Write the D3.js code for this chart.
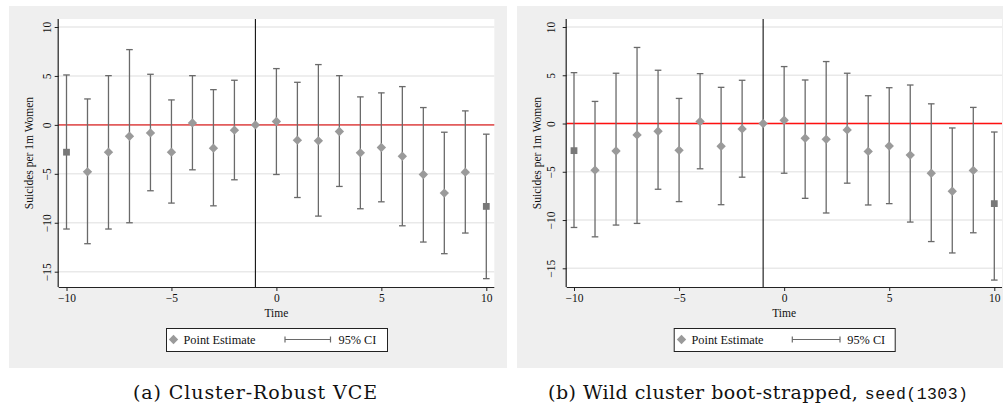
<!DOCTYPE html>
<html>
<head>
<meta charset="utf-8">
<script src="https://cdn.jsdelivr.net/npm/d3@7"></script>
<style>
  html, body { margin: 0; padding: 0; background: #fff; }
  svg { display: block; }
  .serif { font-family: "Liberation Serif", "Times New Roman", "DejaVu Serif", serif; }
  .cap { font-family: "DejaVu Serif", "Liberation Serif", serif; }
  .mono { font-family: "Liberation Mono", "DejaVu Sans Mono", monospace; }
</style>
</head>
<body>
<svg id="chart" width="1003" height="407"></svg>
<script>
// Event-study estimates by relative time (t = -1 is the omitted reference period)
const time = [-10, -9, -8, -7, -6, -5, -4, -3, -2, -1, 0, 1, 2, 3, 4, 5, 6, 7, 8, 9, 10];

// (a) Cluster-robust VCE
const estA = [-2.79, -4.80, -2.79, -1.16, -0.82, -2.79, 0.20, -2.38, -0.54, 0, 0.34, -1.56, -1.63, -0.68, -2.86, -2.31, -3.20, -5.07, -6.97, -4.83, -8.33];
const hiA  = [5.10, 2.65, 5.03, 7.69, 5.17, 2.55, 5.03, 3.60, 4.56, null, 5.75, 4.35, 6.16, 5.03, 2.86, 3.27, 3.91, 1.77, -0.75, 1.43, -0.95];
const loA  = [-10.64, -12.14, -10.64, -10.00, -6.73, -7.99, -4.59, -8.27, -5.61, null, -5.07, -7.42, -9.32, -6.29, -8.57, -7.86, -10.31, -11.97, -13.16, -11.05, -15.71];

// (b) Wild cluster bootstrap
const estB = [-2.81, -4.83, -2.85, -1.18, -0.80, -2.78, 0.21, -2.36, -0.56, 0, 0.34, -1.53, -1.64, -0.66, -2.89, -2.33, -3.27, -5.15, -7.02, -4.86, -8.30];
const hiB  = [5.27, 2.29, 5.21, 7.88, 5.52, 2.60, 5.17, 3.75, 4.48, null, 5.90, 4.51, 6.42, 5.21, 2.88, 3.71, 3.99, 2.04, -0.46, 1.67, -0.88];
const loB  = [-10.77, -11.74, -10.52, -10.35, -6.81, -8.09, -4.69, -8.41, -5.56, null, -5.15, -7.75, -9.27, -6.18, -8.44, -8.30, -10.21, -12.23, -13.41, -11.32, -16.22];

// Binned endpoints are drawn with a square marker
const binnedEnds = [-10, 10];

const xTicks = [-10, -5, 0, 5, 10];
const yTicks = [-15, -10, -5, 0, 5, 10];
const eventTime = -1;

const svg = d3.select("#chart");
const fmt = d => d < 0 ? "\u2212" + Math.abs(d) : String(d);

function drawPanel(cfg, est, hi, lo) {
  const g = svg.append("g");

  // outer graph region
  g.append("rect")
    .attr("x", cfg.bg[0]).attr("y", cfg.bg[1])
    .attr("width", cfg.bg[2] - cfg.bg[0]).attr("height", cfg.bg[3] - cfg.bg[1])
    .attr("fill", "#efefef");

  // plot region
  g.append("rect")
    .attr("x", cfg.plot[0]).attr("y", cfg.plot[1])
    .attr("width", cfg.plot[2] - cfg.plot[0]).attr("height", cfg.plot[3] - cfg.plot[1])
    .attr("fill", "#ffffff");

  const x = d3.scaleLinear().domain([-10, 10]).range(cfg.xr);
  const y = d3.scaleLinear().domain([-15, 10]).range(cfg.yr);

  // horizontal grid
  g.append("g").selectAll("line").data(yTicks).join("line")
    .attr("x1", cfg.plot[0]).attr("x2", cfg.plot[2])
    .attr("y1", d => y(d)).attr("y2", d => y(d))
    .attr("stroke", "#e9e9e9").attr("stroke-width", 1.4);

  // zero reference line
  g.append("line")
    .attr("x1", cfg.plot[0]).attr("x2", cfg.plot[2])
    .attr("y1", y(0)).attr("y2", y(0))
    .attr("stroke", cfg.zeroColor).attr("stroke-width", cfg.zeroWidth);

  // event-time marker
  g.append("line")
    .attr("x1", x(eventTime)).attr("x2", x(eventTime))
    .attr("y1", cfg.plot[1]).attr("y2", cfg.plot[3])
    .attr("stroke", "#111").attr("stroke-width", 1.1);

  // confidence intervals
  const rows = time.map((t, i) => ({ t, est: est[i], hi: hi[i], lo: lo[i] }));
  const ci = rows.filter(d => d.hi !== null);
  const ciG = g.append("g").attr("stroke", "#6a6a6a").attr("stroke-width", 1.3).attr("fill", "none");
  ciG.selectAll("line.v").data(ci).join("line").attr("class", "v")
    .attr("x1", d => x(d.t)).attr("x2", d => x(d.t))
    .attr("y1", d => y(d.hi)).attr("y2", d => y(d.lo));
  ciG.selectAll("line.capH").data(ci).join("line").attr("class", "capH")
    .attr("x1", d => x(d.t) - 3.3).attr("x2", d => x(d.t) + 3.3)
    .attr("y1", d => y(d.hi)).attr("y2", d => y(d.hi));
  ciG.selectAll("line.capL").data(ci).join("line").attr("class", "capL")
    .attr("x1", d => x(d.t) - 3.3).attr("x2", d => x(d.t) + 3.3)
    .attr("y1", d => y(d.lo)).attr("y2", d => y(d.lo));

  // point estimates
  const diamond = d3.symbol().type(d3.symbolDiamond2).size(56);
  const square = d3.symbol().type(d3.symbolSquare).size(46);
  g.append("g").selectAll("path").data(rows).join("path")
    .attr("transform", d => `translate(${x(d.t)},${y(d.est)})`)
    .attr("d", d => binnedEnds.includes(d.t) ? square() : diamond())
    .attr("fill", d => binnedEnds.includes(d.t) ? "#787878" : "#9a9a9a");

  // axes
  const xAxis = d3.axisBottom(x).tickValues(xTicks).tickSize(4).tickPadding(3).tickFormat(fmt);
  const gx = g.append("g").attr("transform", `translate(0,${cfg.plot[3]})`).call(xAxis);
  gx.attr("font-family", null);
  gx.select(".domain").attr("d", `M${cfg.plot[0]},0.5H${cfg.plot[2]}`).attr("stroke", "#222").attr("stroke-width", 1.2);
  gx.selectAll(".tick line").attr("stroke", "#222");
  gx.selectAll(".tick text").attr("class", "serif").attr("font-size", 11.5).attr("fill", "#111");

  const yAxis = d3.axisLeft(y).tickValues(yTicks).tickSize(4).tickPadding(0).tickFormat(fmt);
  const gy = g.append("g").attr("transform", `translate(${cfg.plot[0]},0)`).call(yAxis);
  gy.attr("font-family", null);
  gy.select(".domain").attr("d", `M-0.5,${cfg.plot[1]}V${cfg.plot[3]}`).attr("stroke", "#222").attr("stroke-width", 1.2);
  gy.selectAll(".tick line").attr("stroke", "#222");
  gy.selectAll(".tick text")
    .attr("x", null).attr("dy", null)
    .attr("transform", `translate(${cfg.yLabX - cfg.plot[0]},0) rotate(-90)`)
    .attr("text-anchor", "middle")
    .attr("dominant-baseline", "central")
    .attr("class", "serif").attr("font-size", 11.5).attr("fill", "#111");

  // axis titles
  g.append("text")
    .attr("class", "serif")
    .attr("transform", `translate(${cfg.yTitleX},${(cfg.plot[1] + cfg.plot[3]) / 2}) rotate(-90)`)
    .attr("text-anchor", "middle").attr("dominant-baseline", "central")
    .attr("font-size", 11.5).attr("fill", "#111")
    .text("Suicides per 1m Women");
  g.append("text")
    .attr("class", "serif")
    .attr("x", x(0)).attr("y", 317)
    .attr("text-anchor", "middle")
    .attr("font-size", 11.5).attr("fill", "#111")
    .text("Time");

  // legend
  const L = cfg.legend;
  g.append("rect")
    .attr("x", L.box[0] + 0.5).attr("y", L.box[1] + 0.5)
    .attr("width", L.box[2] - L.box[0]).attr("height", L.box[3] - L.box[1])
    .attr("fill", "#fff").attr("stroke", "#222").attr("stroke-width", 1);
  const ly = (L.box[1] + L.box[3]) / 2;
  g.append("path")
    .attr("transform", `translate(${L.marker},${ly})`)
    .attr("d", diamond()).attr("fill", "#9a9a9a");
  g.append("text")
    .attr("class", "serif")
    .attr("x", L.text1).attr("y", ly + 4.5)
    .attr("font-size", 12.3).attr("fill", "#111")
    .text("Point Estimate");
  const lg = g.append("g").attr("stroke", "#6a6a6a").attr("stroke-width", 1.2);
  lg.append("line").attr("x1", L.ci[0]).attr("x2", L.ci[1]).attr("y1", ly).attr("y2", ly);
  lg.append("line").attr("x1", L.ci[0]).attr("x2", L.ci[0]).attr("y1", ly - 3).attr("y2", ly + 3);
  lg.append("line").attr("x1", L.ci[1]).attr("x2", L.ci[1]).attr("y1", ly - 3).attr("y2", ly + 3);
  g.append("text")
    .attr("class", "serif")
    .attr("x", L.text2).attr("y", ly + 4.5)
    .attr("font-size", 12.3).attr("fill", "#111")
    .text("95% CI");

  // caption
  const cap = g.append("text")
    .attr("x", cfg.cap[0]).attr("y", 399)
    .attr("textLength", cfg.cap[1] - cfg.cap[0])
    .attr("lengthAdjust", "spacing")
    .attr("fill", "#111");
  cfg.caption.forEach(part => {
    cap.append("tspan")
      .attr("class", part.mono ? "mono" : "cap")
      .attr("font-size", part.mono ? 16.5 : 19)
      .text(part.text);
  });
}

drawPanel({
  bg: [9, 6, 507, 368],
  plot: [58.7, 19, 494.3, 287],
  xr: [66.5, 486.3],
  yr: [271.7, 27],
  yLabX: 46.5,
  yTitleX: 28.5,
  zeroColor: "#e35d5d",
  zeroWidth: 1.8,
  legend: { box: [166, 328, 387, 351], marker: 173.5, text1: 183.5, ci: [285, 330.5], text2: 338.5 },
  cap: [133, 377],
  caption: [{ text: "(a) Cluster-Robust VCE" }]
}, estA, hiA, loA);

drawPanel({
  bg: [517, 6, 1003, 368],
  plot: [566.7, 19, 1002, 287],
  xr: [574, 994.3],
  yr: [268.3, 27],
  yLabX: 551,
  yTitleX: 536.5,
  zeroColor: "#ff1010",
  zeroWidth: 1.3,
  legend: { box: [673.7, 328, 894.7, 351], marker: 681.5, text1: 691.5, ci: [792.3, 840], text2: 847.3 },
  cap: [548, 968],
  caption: [{ text: "(b) Wild cluster boot-strapped, " }, { text: "seed(1303)", mono: true }]
}, estB, hiB, loB);
</script>
</body>
</html>
